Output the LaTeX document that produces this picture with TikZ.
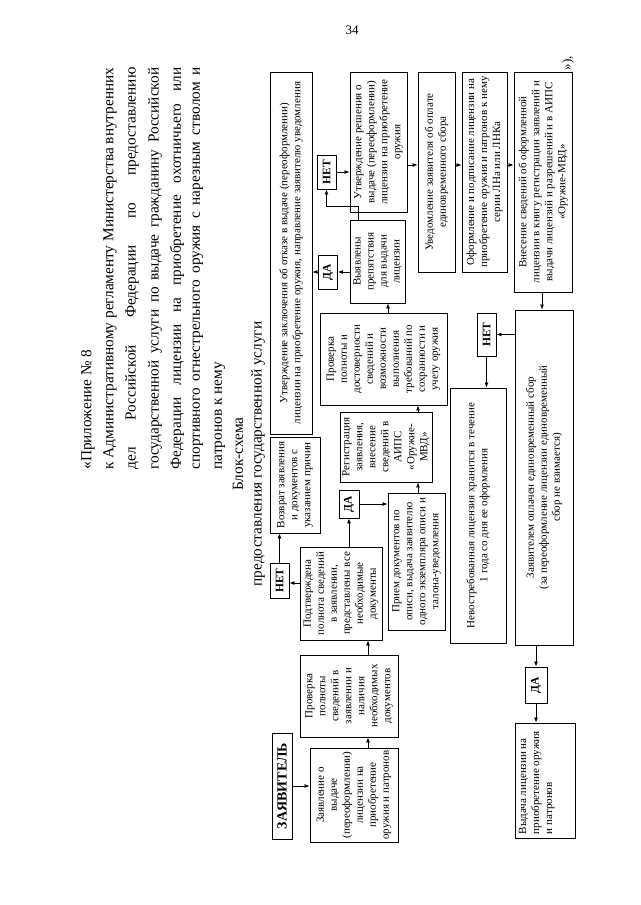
\documentclass[tikz,border=0pt]{standalone}
\usepackage{fontspec}
\setmainfont{Liberation Serif}
\usetikzlibrary{arrows.meta}

\begin{document}
\begin{tikzpicture}[x=1pt, y=-1pt, line width=0.9pt,
    box/.style={draw, rotate=90, align=center, inner sep=1pt, font=\fontsize{11}{13}\selectfont},
    answer/.style={draw, rotate=90, inner sep=0pt, font=\bfseries\fontsize{11.5}{13}\selectfont},
    titleline/.style={rotate=90, anchor=west, inner sep=0pt, font=\fontsize{15.3}{22}\selectfont},
    arr/.style={-{Latex[length=5pt,width=4pt]}, line width=0.8pt}]

    \useasboundingbox (0,0) rectangle (640,905);

    % Page number
    \node[font=\fontsize{13}{15}\selectfont] (pagenum) at (352,30) {34};

    % Title of the appendix
    \node[titleline] (t1) at (88,470) {«Приложение № 8};
    \node[titleline] (t2) at (110,470) {\makebox[402pt][s]{к Административному регламенту Министерства внутренних}};
    \node[titleline] (t3) at (132,470) {\makebox[402pt][s]{дел Российской Федерации по предоставлению}};
    \node[titleline] (t4) at (155,470) {\makebox[402pt][s]{государственной услуги по выдаче гражданину Российской}};
    \node[titleline] (t5) at (177,470) {\makebox[402pt][s]{Федерации лицензии на приобретение охотничьего или}};
    \node[titleline] (t6) at (198,470) {\makebox[402pt][s]{спортивного огнестрельного оружия с нарезным стволом и}};
    \node[titleline] (t7) at (220,470) {патронов к нему};

    % Heading
    \node[titleline, anchor=center] (head1) at (238,454) {Блок-схема};
    \node[titleline, anchor=center] (head2) at (258,454) {предоставления государственной услуги};

    % Reception of the application
    \node[box, font=\bfseries\fontsize{14}{16}\selectfont, minimum width=106, minimum height=20] (applicant) at (282,786) {ЗАЯВИТЕЛЬ};
    \node[box, minimum width=94, minimum height=88] (request) at (354,795) {Заявление о\\ выдаче\\ (переоформлении)\\ лицензии на\\ приобретение\\ оружия и патронов};
    \node[box, minimum width=82, minimum height=98] (check1) at (349,696) {Проверка\\ полноты\\ сведений в\\ заявлении и\\ наличия\\ необходимых\\ документов};
    \node[box, minimum width=93, minimum height=82] (confirmed) at (341,593.5) {Подтверждена\\ полнота сведений\\ в заявлении,\\ представлены все\\ необходимые\\ документы};
    \node[answer, minimum width=35, minimum height=19] (no1) at (279.5,580.5) {НЕТ};
    \node[box, minimum width=96, minimum height=50] (returned) at (295,485) {Возврат заявления\\ и документов с\\ указанием причин};
    \node[answer, minimum width=28, minimum height=20] (yes1) at (349,504) {ДА};
    \node[box, minimum width=137, minimum height=57] (receipt) at (416.5,561.5) {Прием документов по\\ описи, выдача заявителю\\ одного экземпляра описи и\\ талона-уведомления};
    \node[box, minimum width=70, minimum height=92] (register) at (386,447) {Регистрация\\ заявления,\\ внесение\\ сведений в\\ АИПС\\ «Оружие-\\ МВД»};
    \node[box, minimum width=92, minimum height=127] (check2) at (383.5,359) {Проверка\\ полноты и\\ достоверности\\ сведений и\\ возможности\\ выполнения\\ требований по\\ сохранности и\\ учету оружия};

    % Decision
    \node[box, minimum width=362, minimum height=42] (refusal) at (291,253) {Утверждение заключения об отказе в выдаче (переоформлении)\\ лицензии на приобретение оружия, направление заявителю уведомления};
    \node[answer, minimum width=34, minimum height=19] (yes2) at (328,272) {ДА};
    \node[box, minimum width=83, minimum height=55] (obstacles) at (377.5,261.5) {Выявлены\\ препятствия\\ для выдачи\\ лицензии};
    \node[answer, minimum width=34, minimum height=19] (no2) at (326.5,172) {НЕТ};
    \node[box, minimum width=140, minimum height=57] (decision) at (378.5,142) {Утверждение решения о\\ выдаче (переоформлении)\\ лицензии на приобретение\\ оружия};

    % Issue of the licence
    \node[box, minimum width=200, minimum height=37] (notice) at (436.5,172) {Уведомление заявителя об оплате\\ единовременного сбора};
    \node[box, minimum width=200, minimum height=45] (issue) at (484.5,172) {Оформление и подписание лицензии на\\ приобретение оружия и патронов к нему\\ серии ЛНа или ЛНКа};
    \node[box, minimum width=220, minimum height=58] (entry) at (543,182) {Внесение сведений об оформленной\\ лицензии в книгу регистрации заявлений и\\ выдачи лицензий и разрешений и в АИПС\\ «Оружие-МВД»};
    \node[answer, minimum width=43, minimum height=19] (no3) at (486.5,334.5) {НЕТ};
    \node[box, minimum width=335, minimum height=58] (paid) at (544,477.5) {Заявителем оплачен единовременный сбор\\ (за переоформление лицензии единовременный\\ сбор не взимается)};
    \node[box, minimum width=255, minimum height=56] (unclaimed) at (478,515.5) {Невостребованная лицензия хранится в течение\\ 1 года со дня ее оформления};
    \node[answer, minimum width=36, minimum height=22] (yes3) at (536,685) {ДА};
    \node[box, inner sep=4pt] (delivery) at (545,780.5) {\parbox[t][52pt][t]{107pt}{\raggedright Выдача лицензии на\\ приобретение оружия\\ и патронов}};

    % Closing of the quotation
    \node[rotate=90, inner sep=0pt, font=\fontsize{13}{15}\selectfont] (quoteend) at (568,63) {»),};

    % Draw the arrows
    \draw[arr] (applicant.south) -- (applicant.south -| request.north);
    \draw[arr] (368,0 |- request.east) -- (368,0 |- check1.west);
    \draw[arr] (368,0 |- check1.east) -- (368,0 |- confirmed.west);
    \draw[arr] (confirmed.north |- 0,583) -- (no1.south |- 0,583);
    \draw[arr] (no1.east) -- (no1.east |- returned.west);
    \draw[arr] (yes1.west |- confirmed.east) -- (yes1.west);
    \draw[arr] (yes1.south) -- (yes1.south -| receipt.north);
    \draw[arr] (418,0 |- receipt.east) -- (418,0 |- register.west);
    \draw[arr] (418,0 |- register.east) -- (418,0 |- check2.west);
    \draw[arr] (388,0 |- check2.east) -- (388,0 |- obstacles.west);
    \draw[arr] (obstacles.north |- yes2) -- (yes2.south);
    \draw[arr] (yes2.north) -- (yes2.north -| refusal.south);
    \draw[arr] (358,0 |- obstacles.east) -- ++(0,-13) -| (no2.west);
    \draw[arr] (no2.south) -- (no2.south -| decision.north);
    \draw[arr] (decision.south |- 0,165) -- (notice.north |- 0,165);
    \draw[arr] (notice.south |- 0,165) -- (issue.north |- 0,165);
    \draw[arr] (issue.south |- 0,165) -- (entry.north |- 0,165);
    \draw[arr] (542,0 |- entry.west) -- (542,0 |- paid.east);
    \draw[arr] (paid.north |- no3) -- (no3.south);
    \draw[arr] (no3.west) -- (no3.west |- unclaimed.east);
    \draw[arr] (yes3.east |- paid.west) -- (yes3.east);
    \draw[arr] (yes3.west) -- (yes3.west |- delivery.east);

\end{tikzpicture}
\end{document}
